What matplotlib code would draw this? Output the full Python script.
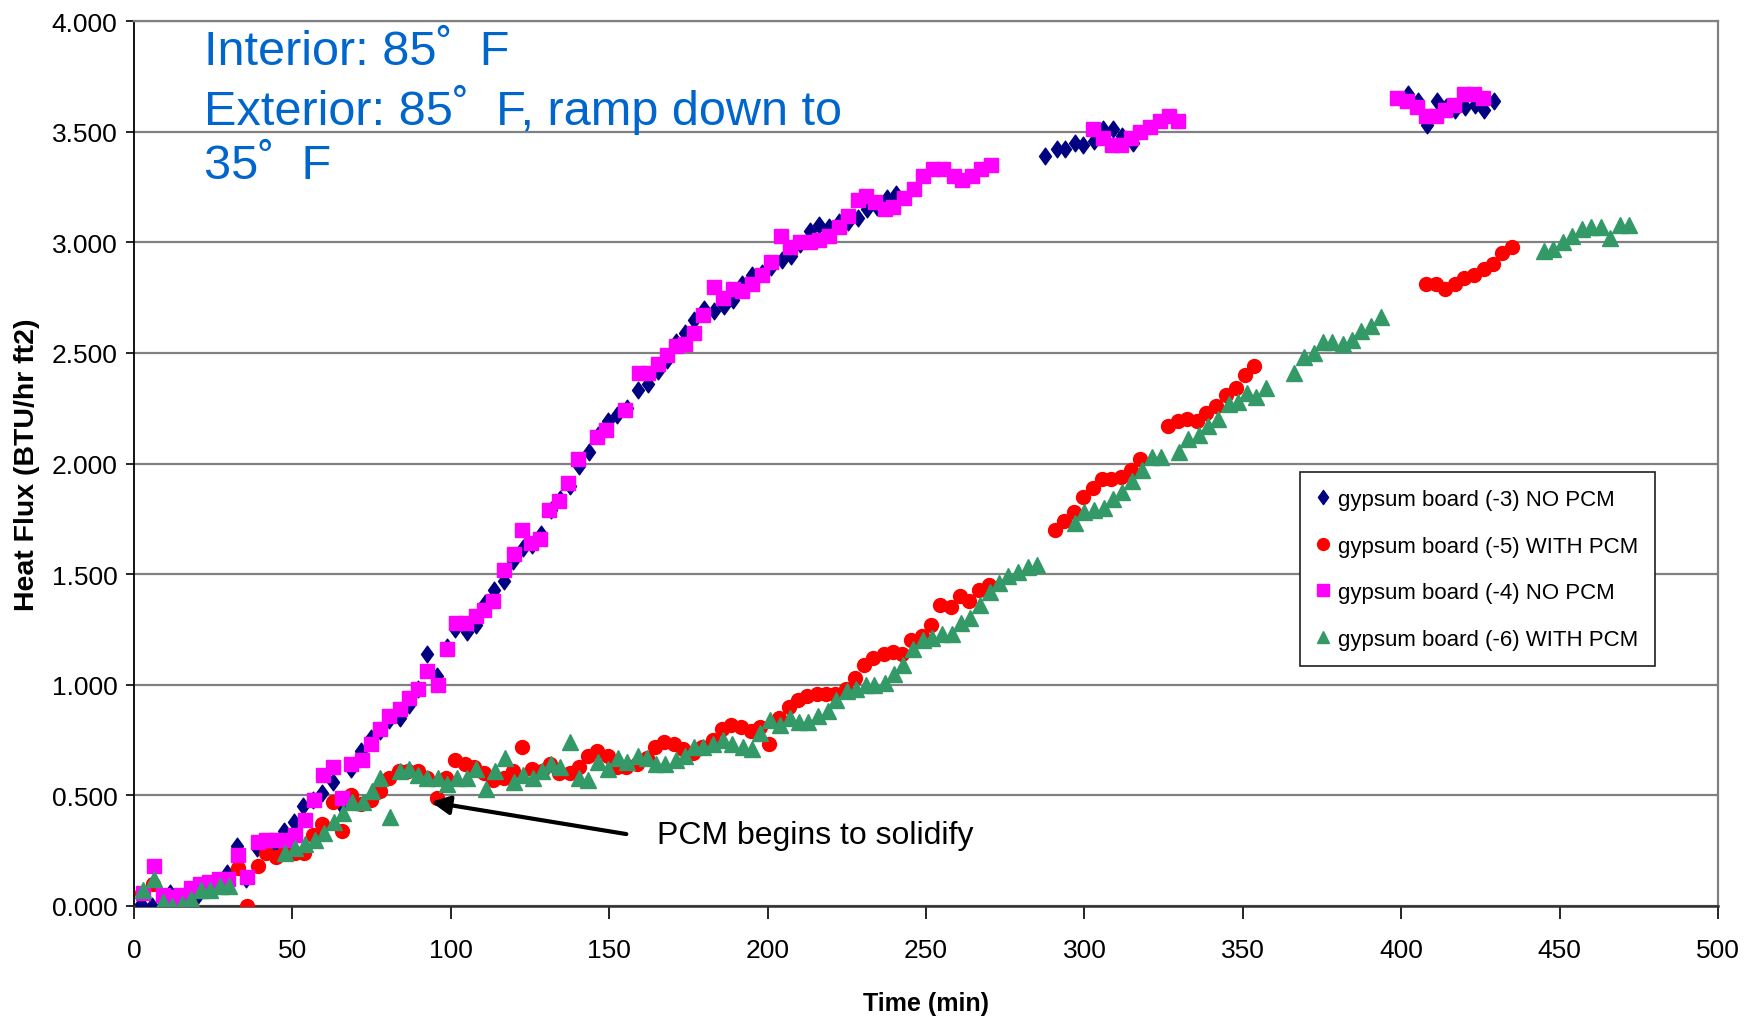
import matplotlib
matplotlib.use("Agg")
import matplotlib.pyplot as plt
from matplotlib.path import Path

# gypsum board (-3) NO PCM
t_b3 = [2.1, 5.6, 8.7, 11.4, 20.3, 29.5, 32.4, 35.4, 38.7, 44.2, 47.4, 50.5, 53.4, 56.4, 59.4, 62.7,
        65.5, 68.4, 71.5, 74.7, 77.6, 80.6, 83.9, 86.7, 89.5, 92.4, 95.7, 98.7, 101.3, 105, 108, 110.8,
        113.6, 116.9, 119.7, 122.7, 125.6, 128.6, 131.6, 134.6, 137.6, 140.6, 143.6, 146.6, 149.6,
        152.6, 155.6, 159.2, 162.3, 165.3, 168.1, 171.2, 173.8, 176.9, 179.9, 183.2, 186.2, 189, 192,
        195.1, 198.1, 201.1, 204.4, 207.4, 210.2, 213.3, 216.3, 219.4, 222.4, 225.4, 228.5, 231.5,
        234.5, 237.6, 240.4,
        287.6, 291.2, 294, 297.1, 299.6, 303, 306, 309.1, 311.9, 315.2,
        402.2, 405.4, 408.1, 411.4, 414.2, 417, 420.1, 423.4, 426.2, 429.3]
v_b3 = [0.01, 0.00, 0.00, 0.06, 0.05, 0.15, 0.27, 0.12, 0.26, 0.27, 0.34, 0.38, 0.45, 0.48, 0.51, 0.56,
        0.45, 0.62, 0.70, 0.76, 0.79, 0.84, 0.85, 0.91, 0.98, 1.14, 1.04, 1.17, 1.25, 1.24, 1.27, 1.37,
        1.43, 1.47, 1.56, 1.62, 1.63, 1.68, 1.79, 1.84, 1.90, 1.99, 2.05, 2.13, 2.19,
        2.22, 2.25, 2.33, 2.36, 2.42, 2.47, 2.55, 2.59, 2.65, 2.70, 2.69, 2.71, 2.74, 2.81,
        2.85, 2.86, 2.89, 2.92, 2.94, 2.99, 3.05, 3.08, 3.07, 3.09, 3.09, 3.11, 3.15,
        3.16, 3.20, 3.22,
        3.39, 3.42, 3.42, 3.45, 3.44, 3.46, 3.51, 3.51, 3.48, 3.45,
        3.67, 3.64, 3.53, 3.64, 3.61, 3.60, 3.61, 3.62, 3.60, 3.64]

# gypsum board (-5) WITH PCM
t_b5 = [2.5, 5.9, 11.7, 18, 32.7, 35.6, 39, 41.8, 44.7, 47.8, 50.7, 53.7, 56.5, 59.4, 62.8, 65.7,
        68.5, 71.7, 74.8, 77.8, 80.6, 83.7, 86.6, 89.5, 92.5, 95.6, 98.5, 101.4, 104.6, 107.4, 110.5,
        113.4, 116.7, 119.6, 122.4, 125.7, 128.7, 131.3, 134.3, 137.6, 140.6, 143.4, 146.3, 149.7,
        152.4, 155.3, 158.7, 161.8, 164.5, 167.4, 170.6, 173.4, 176.6, 179.2, 182.9, 185.6, 188.5,
        191.7, 194.9, 197.6, 200.3, 203.7, 206.6, 209.5, 212.4, 215.6, 218.5, 221.4, 224.6, 227.6,
        230.5, 233.4, 236.6, 239.5, 242.4, 245.4, 248.7, 251.6, 254.5, 257.9, 260.8, 263.7, 266.6,
        269.8,
        290.8, 293.6, 296.6, 299.5, 302.7, 305.6, 308.5, 311.5, 314.7, 317.6, 326.5, 329.5, 332.5,
        335.5, 338.5, 341.5, 344.7, 347.7, 350.6, 353.4,
        407.8, 411.1, 413.9, 417, 419.8, 423.1, 426.2, 429, 431.9, 435.1]
v_b5 = [0.06, 0.10, 0.03, 0.00, 0.17, 0.00, 0.18, 0.24, 0.22, 0.25, 0.24, 0.24, 0.32, 0.37, 0.47, 0.34,
        0.50, 0.46, 0.48, 0.52, 0.58, 0.61, 0.61, 0.61, 0.58, 0.49, 0.58, 0.66, 0.64, 0.63, 0.60,
        0.57, 0.58, 0.61, 0.72, 0.62, 0.61, 0.64, 0.60, 0.60, 0.63, 0.68, 0.70, 0.68,
        0.63, 0.63, 0.64, 0.67, 0.72, 0.74, 0.73, 0.71, 0.69, 0.72, 0.75, 0.80, 0.82,
        0.81, 0.79, 0.81, 0.73, 0.85, 0.90, 0.93, 0.95, 0.96, 0.96, 0.96, 0.98, 1.03,
        1.09, 1.12, 1.14, 1.15, 1.14, 1.20, 1.22, 1.27, 1.36, 1.35, 1.40, 1.38, 1.43,
        1.45,
        1.70, 1.74, 1.78, 1.85, 1.89, 1.93, 1.93, 1.94, 1.97, 2.02, 2.17, 2.19, 2.20,
        2.19, 2.23, 2.26, 2.31, 2.34, 2.40, 2.44,
        2.81, 2.81, 2.79, 2.81, 2.84, 2.85, 2.88, 2.90, 2.95, 2.98]

# gypsum board (-4) NO PCM
t_b4 = [2.7, 6.2, 9, 12, 14.9, 17.9, 20.9, 23.7, 26.8, 29.8, 32.7, 35.6, 39, 41.8, 44.7, 47.6, 50.9,
        53.9, 56.8, 59.6, 62.8, 65.7, 68.5, 71.9, 74.8, 77.8, 80.6, 83.9, 86.7, 89.5, 92.4, 95.8,
        98.7, 101.6, 104.9, 107.8, 110.5, 113.4, 116.8, 119.8, 122.5, 125.3, 128.2, 131, 134, 137,
        140, 146, 149, 155, 159.3, 162.3, 165.3, 168.1, 171.2, 173.8, 176.9, 179.7, 183, 186, 189,
        192, 195.1, 198.1, 201.1, 204.2, 207.2, 210.2, 213.3, 216.3, 219.4, 222.4, 225.4, 228.5,
        231.1, 233.9, 237, 239.7, 243.1, 246.1, 249.2, 252.3, 255.3, 258.9, 261.4, 264.4, 267.4,
        270.5,
        302.7, 306, 308.8, 311.6, 314.8, 317.6, 320.7, 324, 326.8, 329.6,
        398.6, 401.7, 405, 407.8, 411.1, 413.9, 416.7, 419.8, 423.1, 425.9]
v_b4 = [0.06, 0.18, 0.05, 0.04, 0.05, 0.08, 0.10, 0.11, 0.12, 0.12, 0.23, 0.13, 0.29, 0.30, 0.30, 0.30,
        0.32, 0.39, 0.48, 0.59, 0.63, 0.49, 0.64, 0.66, 0.73, 0.80, 0.86, 0.89, 0.94, 0.98, 1.06, 1.00,
        1.16, 1.28, 1.28, 1.31, 1.34, 1.38, 1.52, 1.59, 1.70, 1.64, 1.66, 1.79, 1.83, 1.91,
        2.02, 2.12, 2.15, 2.24, 2.41, 2.41, 2.45, 2.49, 2.53, 2.54, 2.59, 2.67, 2.80, 2.75, 2.79,
        2.78, 2.81, 2.85, 2.91, 3.03, 2.98, 3.00, 3.00, 3.01, 3.03, 3.07, 3.12, 3.19,
        3.21, 3.18, 3.15, 3.16, 3.20, 3.24, 3.30, 3.33, 3.33, 3.30, 3.28, 3.30, 3.33,
        3.35,
        3.51, 3.47, 3.44, 3.44, 3.47, 3.50, 3.52, 3.55, 3.57, 3.55,
        3.65, 3.64, 3.61, 3.57, 3.57, 3.60, 3.62, 3.67, 3.67, 3.65]

# gypsum board (-6) WITH PCM
t_b6 = [2.7, 6.2, 9, 12, 15.1, 18, 21.1, 24, 27, 30, 47.6, 50.9, 53.9, 57, 59.9, 63, 65.9, 68.8,
        72.2, 75, 77.8, 80.9, 84, 86.8, 89.5, 92.6, 95.8, 98.9, 101.9, 105, 107.8, 111, 113.8, 117,
        119.9, 122.8, 126, 128.8, 131.7, 134.6, 137.7, 140.6, 143.4, 146.6, 149.7, 152.9, 155.7,
        159, 161.8, 164.7, 167.6, 171, 173.9, 176.8, 179.5, 182.9, 185.8, 188.7, 192.1, 195, 197.7,
        200.7, 204, 207, 209.8, 212.7, 215.8, 219, 221.7, 224.9, 228, 230.9, 233.7, 236.9, 239.8,
        242.8, 245.9, 249.1, 251.9, 255.1, 258.3, 261.1, 263.9, 267, 270.2, 273, 276, 279, 282.2,
        285.1,
        296.9, 299.8, 303, 306.2, 309.1, 311.9, 315.1, 318.3, 321.2, 324.3, 330, 332.8, 336.2,
        339.1, 342.1, 345.5, 348.4, 351.2, 354, 357.4,
        366.1, 369.3, 372.4, 375.2, 378.3, 381.5, 384.4, 387.4, 390.6, 393.6,
        445, 448, 451, 454, 457, 460, 463, 466, 469, 472]
v_b6 = [0.07, 0.12, 0.02, 0.00, 0.01, 0.03, 0.07, 0.07, 0.09, 0.09, 0.24, 0.26, 0.28, 0.30, 0.33, 0.38,
        0.42, 0.47, 0.47, 0.52, 0.58, 0.40, 0.61, 0.62, 0.59, 0.58, 0.58, 0.55, 0.58, 0.58, 0.62,
        0.53, 0.61, 0.67, 0.56, 0.59, 0.58, 0.61, 0.64, 0.63, 0.74, 0.58, 0.57, 0.65, 0.62, 0.67,
        0.65, 0.68, 0.67, 0.64, 0.64, 0.66, 0.68, 0.72, 0.72, 0.73, 0.75, 0.73, 0.72, 0.71, 0.78,
        0.84, 0.82, 0.85, 0.83, 0.83, 0.86, 0.88, 0.93, 0.97, 0.98, 1.00, 1.00, 1.01, 1.05,
        1.09, 1.16, 1.20, 1.21, 1.23, 1.23, 1.28, 1.30, 1.36, 1.42, 1.46, 1.49, 1.51, 1.53,
        1.54,
        1.73, 1.78, 1.79, 1.80, 1.84, 1.87, 1.92, 1.97, 2.03, 2.03, 2.05, 2.11, 2.13,
        2.17, 2.20, 2.27, 2.28, 2.32, 2.30, 2.34,
        2.41, 2.48, 2.50, 2.55, 2.55, 2.54, 2.56, 2.60, 2.62, 2.66,
        2.96, 2.97, 3.00, 3.03, 3.06, 3.07, 3.07, 3.02, 3.08, 3.08]

series = [
    ("gypsum board (-3) NO PCM", t_b3, v_b3, "#000080"),
    ("gypsum board (-5) WITH PCM", t_b5, v_b5, "#FF0000"),
    ("gypsum board (-4) NO PCM", t_b4, v_b4, "#FF00FF"),
    ("gypsum board (-6) WITH PCM", t_b6, v_b6, "#339966"),
]

# excel style markers
diamond = Path([(0, 1), (0.72, 0), (0, -1), (-0.72, 0), (0, 1)],
               [Path.MOVETO, Path.LINETO, Path.LINETO, Path.LINETO, Path.CLOSEPOLY])
markers = [(diamond, 12), ("o", 10), ("s", 10), ("^", 11)]

plt.rcParams["font.family"] = ["Liberation Sans", "DejaVu Sans"]

fig = plt.figure(figsize=(17.54, 10.2), dpi=100)
ax = fig.add_axes([0.0764, 0.1108, 0.9031, 0.8676])

for (label, t, v, col), (mk, ms) in zip(series, markers):
    ax.plot(t, v, linestyle="none", marker=mk, markersize=ms, color=col,
            markeredgecolor=col, label=label, zorder=3)

ax.set_xlim(0, 500)
ax.set_ylim(0, 4)
ax.set_xticks(range(0, 501, 50))
ax.set_yticks([i * 0.5 for i in range(9)])
ax.set_yticklabels(["%.3f" % (i * 0.5) for i in range(9)])
ax.grid(axis="y", color="#808080", linewidth=1.6, zorder=0)
ax.set_axisbelow(True)

ax.tick_params(axis="both", labelsize=19)
ax.tick_params(axis="y", direction="out", length=6, width=1.2, pad=6)
ax.tick_params(axis="x", direction="out", length=9, width=1.2, pad=14)

ax.spines["left"].set_color("black")
ax.spines["left"].set_linewidth(1.3)
ax.spines["bottom"].set_color("#303030")
ax.spines["bottom"].set_linewidth(1.8)
ax.spines["right"].set_color("#808080")
ax.spines["right"].set_linewidth(1.6)
ax.spines["top"].set_color("#808080")
ax.spines["top"].set_linewidth(1.6)

ax.set_xlabel("Time (min)", fontsize=18, fontweight="bold", labelpad=21)
ax.set_ylabel("Heat Flux (BTU/hr ft2)", fontsize=20.5, fontweight="bold", labelpad=8)

ax.text(22, 3.965, "Interior: 85\u02DA  F\nExterior: 85\u02DA  F, ramp down to\n35\u02DA  F",
        color="#0066CC", fontsize=35, va="top", ha="left", linespacing=1.25, zorder=4)

ax.annotate("", xy=(93.8, 0.47), xytext=(155.4, 0.325),
            arrowprops=dict(arrowstyle="-|>", color="black", lw=3, mutation_scale=28,
                            shrinkA=0, shrinkB=0))
ax.text(165, 0.32, "PCM begins to solidify", fontsize=23, va="center", ha="left")

leg = ax.legend(loc="upper left", bbox_to_anchor=(0.736, 0.49), borderaxespad=0,
                frameon=True, fancybox=False, framealpha=1, edgecolor="#202020",
                handlelength=0.6, handletextpad=0.35, labelspacing=1.15,
                borderpad=0.75, markerscale=0.85, prop={"size": 16})
leg.get_frame().set_linewidth(1.2)

fig.savefig("out.png", dpi=100, facecolor="white")
